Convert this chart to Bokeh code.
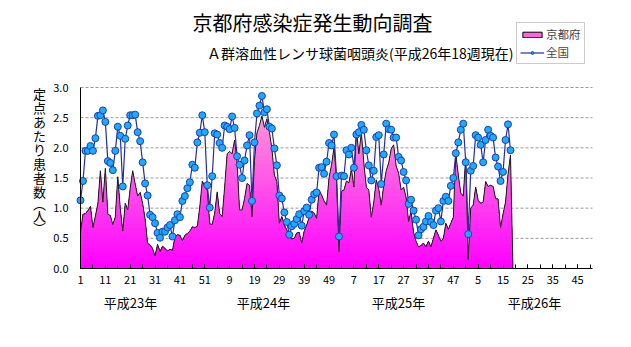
import numpy as np
from bokeh.plotting import figure
from bokeh.models import Range1d, FixedTicker, Label, Legend, LegendItem
from bokeh.embed import file_html
from bokeh.resources import INLINE

# ---------------- data ----------------
title_text = "京都府感染症発生動向調査"
subtitle_text = "Ａ群溶血性レンサ球菌咽頭炎(平成26年18週現在)"
ylabel_chars = ["定", "点", "あ", "た", "り", "患", "者", "数", "︵", "人", "︶"]
year_labels = ["平成23年", "平成24年", "平成25年", "平成26年"]
series_names = ["京都府", "全国"]

x_tick_pos = list(range(0, 201, 10))
x_tick_labels = ["1", "11", "21", "31", "41", "51", "9", "19", "29", "39", "49",
                 "7", "17", "27", "37", "47", "5", "15", "25", "35", "45"]
y_ticks = [0.0, 0.5, 1.0, 1.5, 2.0, 2.5, 3.0]
y_tick_labels = ["0.0", "0.5", "1.0", "1.5", "2.0", "2.5", "3.0"]

national_h23 = [1.13, 1.45, 1.95, 1.95, 2.03, 1.95, 2.16, 2.53, 2.54, 2.62,
                2.43, 1.78, 1.75, 1.63, 1.95, 2.35, 2.20, 1.36, 2.15, 2.37,
                2.54, 2.54, 2.55, 2.26, 2.11, 1.76, 1.41, 1.21, 0.89, 0.85,
                0.75, 0.59, 0.51, 0.61, 0.61, 0.68, 0.72, 0.53, 0.80, 0.90,
                0.85, 1.12, 1.20, 1.33, 1.43, 1.72, 1.67, 2.09, 2.25, 2.54,
                2.26, 1.38]
national_h24 = [1.01, 1.53, 2.24, 2.22, 2.08, 2.00, 2.37, 2.35, 2.31, 2.52,
                2.33, 1.86, 1.72, 1.50, 1.79, 2.04, 2.21, 1.12, 2.09, 2.57,
                2.70, 2.86, 2.59, 2.64, 2.35, 2.32, 1.99, 1.71, 1.21, 1.16,
                0.93, 0.77, 0.56, 0.70, 0.74, 0.82, 0.90, 0.71, 0.95, 1.01,
                0.89, 1.14, 1.23, 1.26, 1.67, 1.68, 1.57, 1.77, 2.08, 2.04,
                2.22, 1.53]
national_h25 = [0.53, 1.54, 1.53, 1.96, 1.89, 2.00, 1.67, 2.22, 2.26, 2.38,
                2.30, 1.96, 1.71, 1.46, 1.62, 2.18, 2.21, 1.40, 1.89, 2.40,
                2.31, 2.30, 2.17, 2.17, 1.85, 1.79, 1.60, 1.46, 1.07, 1.14,
                0.96, 0.81, 0.55, 0.65, 0.69, 0.78, 0.87, 0.77, 0.72, 0.96,
                1.00, 0.78, 1.12, 1.19, 1.12, 1.37, 1.50, 1.91, 2.09, 2.30,
                2.40, 1.76]
national_h26 = [0.57, 1.62, 1.70, 2.21, 2.17, 2.05, 1.76, 2.13, 2.30, 2.20,
                2.17, 1.84, 1.69, 1.45, 1.60, 2.13, 2.39, 1.96]

kyoto_h23 = [0.61, 0.90, 0.91, 0.96, 1.03, 0.68, 0.87, 1.08, 1.62, 1.10,
             1.66, 0.90, 0.88, 0.73, 0.85, 1.52, 1.00, 0.62, 1.08, 0.97,
             1.33, 1.62, 1.40, 1.20, 1.26, 1.08, 0.82, 0.42, 0.39, 0.33,
             0.21, 0.40, 0.28, 0.37, 0.33, 0.29, 0.32, 0.30, 0.52, 0.56,
             0.55, 0.46, 0.55, 0.58, 0.62, 0.69, 0.68, 0.70, 1.02, 1.45,
             1.36, 1.30]
kyoto_h24 = [0.74, 0.73, 0.92, 1.27, 0.91, 0.86, 1.35, 1.90, 1.94, 1.90,
             2.13, 1.75, 0.97, 0.97, 1.16, 1.41, 1.38, 0.86, 1.79, 2.25,
             2.37, 2.53, 2.34, 2.48, 2.26, 1.99, 1.55, 1.44, 0.75, 0.86,
             0.72, 0.64, 0.53, 0.49, 0.50, 0.59, 0.60, 0.42, 0.62, 0.72,
             0.85, 0.95, 0.92, 0.83, 1.30, 1.22, 1.12, 1.05, 1.50, 1.72,
             2.00, 1.50]
kyoto_h25 = [0.28, 1.28, 1.30, 1.45, 1.42, 1.65, 1.35, 2.30, 1.90, 2.25,
             1.75, 1.35, 1.30, 0.85, 1.10, 1.47, 1.32, 1.05, 1.38, 1.62,
             1.75, 1.98, 2.05, 1.70, 1.58, 1.30, 1.35, 1.18, 0.78, 0.95,
             0.60, 0.45, 0.36, 0.38, 0.42, 0.36, 0.45, 0.36, 0.50, 0.64,
             0.55, 0.45, 0.50, 0.75, 0.65, 0.75, 0.85, 1.90, 1.55, 1.25,
             1.20, 1.85]
kyoto_h26 = [0.15, 1.00, 1.05, 1.35, 1.13, 1.08, 1.10, 1.44, 1.36, 1.38,
             1.36, 1.16, 1.15, 0.68, 0.90, 1.10, 1.55, 1.88]

# ---------------- layout constants ----------------
W, H = 631, 347
FL, FR, FT, FB = 80, 592, 87, 268     # plot-area edges on the canvas
X_END = 206                            # category axis length
Y_END = 3.0
FONT = "Noto Sans CJK JP"

px_per_x = (FR - FL) / X_END
px_per_y = (FB - FT) / Y_END
x_start, x_end = -FL / px_per_x, (W - FL) / px_per_x
y_start, y_end = -(H - FB) / px_per_y, FB / px_per_y

national = national_h23 + national_h24 + national_h25 + national_h26
kyoto = kyoto_h23 + kyoto_h24 + kyoto_h25 + kyoto_h26
xn = np.arange(len(national))
# the area chart drops to zero at the first blank week
k_area = np.array(kyoto + [0.0])
xa = np.arange(len(k_area))

p = figure(width=W, height=H, output_backend="svg", toolbar_location=None,
           x_range=Range1d(x_start, x_end), y_range=Range1d(y_start, y_end),
           min_border=0, min_border_left=0, min_border_right=0,
           min_border_top=0, min_border_bottom=0)
p.title.visible = False
p.outline_line_color = None
p.background_fill_color = "white"
p.border_fill_color = "white"

# dashed horizontal gridlines across the plot area
p.segment(x0=[0] * (len(y_ticks) - 1), x1=[X_END] * (len(y_ticks) - 1),
          y0=y_ticks[1:], y1=y_ticks[1:], line_color="#9a9a9a",
          line_dash="3 2", line_width=1)

# gradient fill of Kyoto area (light pink at top -> magenta at bottom)
n = 45
bottom_rgb = np.array([255, 0, 255])
top_rgb = np.array([255, 178, 210])
for j in range(n, 0, -1):
    cap = Y_END * j / n
    t = (j - 0.5) / n
    c = (bottom_rgb + (top_rgb - bottom_rgb) * t).astype(int)
    col = "#%02x%02x%02x" % tuple(c)
    p.varea(x=xa, y1=np.zeros(len(k_area)), y2=np.minimum(k_area, cap),
            fill_color=col, fill_alpha=1.0)
p.line(xa, k_area, line_color="#1a1a1a", line_width=1)

r_nl = p.line(xn, national, line_color="#23309a", line_width=1.2)
r_np = p.scatter(xn, national, size=7, marker="circle",
                 fill_color="#1faaff", line_color="#1d3fa8", line_width=1)

# legend swatch for the area series
r_leg = p.quad(left=[np.nan], right=[np.nan], top=[np.nan], bottom=[np.nan],
               fill_color="#ff66dd", line_color="black", line_width=1)

# axes, pinned at the data origin
xax = p.xaxis[0]
xax.fixed_location = 0
xax.bounds = (0, X_END)
xax.ticker = FixedTicker(ticks=x_tick_pos, minor_ticks=list(range(0, X_END, 5)))
xax.major_label_overrides = {pos: lab for pos, lab in zip(x_tick_pos, x_tick_labels)}
xax.major_tick_in = 4
xax.major_tick_out = 0
xax.minor_tick_in = 4
xax.minor_tick_out = 0
xax.major_label_standoff = 7
xax.axis_line_color = "black"
xax.major_tick_line_color = "black"
xax.minor_tick_line_color = "black"
xax.major_label_text_font = FONT
xax.major_label_text_font_size = "11px"
xax.major_label_text_color = "black"

yax = p.yaxis[0]
yax.fixed_location = 0
yax.bounds = (0, Y_END)
yax.ticker = FixedTicker(ticks=y_ticks)
yax.major_label_overrides = {v: s for v, s in zip(y_ticks, y_tick_labels)}
yax.major_tick_in = 0
yax.major_tick_out = 0
yax.minor_tick_line_color = None
yax.major_label_standoff = 12
yax.axis_line_color = "black"
yax.major_label_text_font = FONT
yax.major_label_text_font_size = "11px"
yax.major_label_text_color = "black"

p.xgrid.visible = False
p.ygrid.visible = False


def canvas_label(cx, cy, text, size, align="center"):
    p.add_layout(Label(x=cx, y=H - cy, x_units="screen", y_units="screen",
                       text=text, text_align=align, text_baseline="middle",
                       text_font=FONT, text_font_size=size, text_color="black"))


canvas_label(312, 22, title_text, "20px")
canvas_label(513, 52, subtitle_text, "14px", align="right")

ylab_y = [93, 107, 121, 135, 149, 163, 177, 191, 203, 215, 227]
for ch, yy in zip(ylabel_chars, ylab_y):
    canvas_label(39, yy, ch, "13px")

for lab, cx in zip(year_labels, [130, 263, 398, 534]):
    canvas_label(cx, 302, lab, "13px")

legend = Legend(items=[LegendItem(label=series_names[0], renderers=[r_leg]),
                       LegendItem(label=series_names[1], renderers=[r_nl, r_np])],
                location=(516, H - 64), orientation="vertical",
                border_line_color="#9a9a9a", border_line_width=1,
                background_fill_color="white", background_fill_alpha=1.0,
                label_text_font=FONT, label_text_font_size="11.5px",
                label_text_line_height=1.0,
                glyph_width=24, glyph_height=7, label_standoff=2,
                padding=3, spacing=2, margin=0, label_height=12)
p.add_layout(legend)

open("out.html", "w").write(file_html(p, INLINE))
